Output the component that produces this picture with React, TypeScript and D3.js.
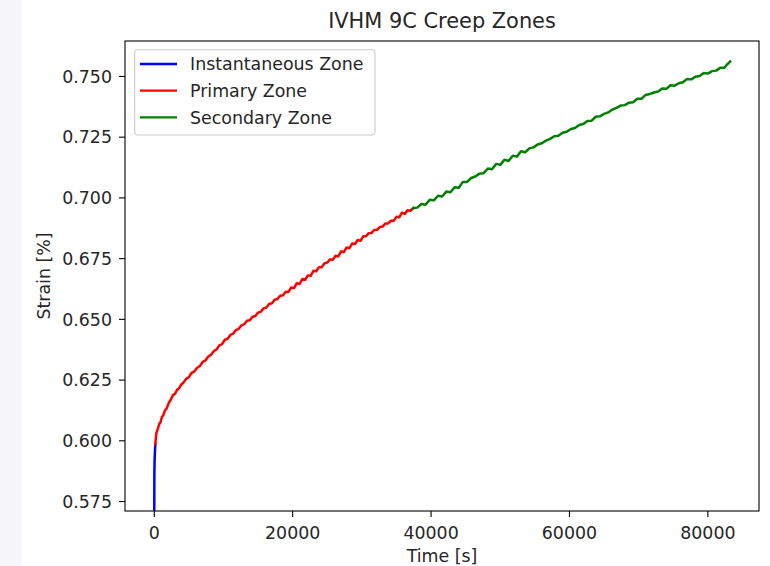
import React from "react";
import * as d3 from "d3";

const xTicks = [0, 20000, 40000, 60000, 80000];
const xTickLabels = ["0", "20000", "40000", "60000", "80000"];
const yTicks = [0.575, 0.6, 0.625, 0.65, 0.675, 0.7, 0.725, 0.75];
const yTickLabels = ["0.575", "0.600", "0.625", "0.650", "0.675", "0.700", "0.725", "0.750"];

const seriesNames = ["Instantaneous Zone", "Primary Zone", "Secondary Zone"];
const seriesColors = ["blue", "red", "green"];

// Instantaneous zone [time s, strain %]
const instantaneous: [number, number][] = [
  [0, 0.56], [3, 0.572], [6, 0.579], [10, 0.584], [15, 0.586], [20, 0.5875],
  [30, 0.589], [45, 0.5915], [60, 0.593], [80, 0.5945], [110, 0.5962], [150, 0.5985],
];

// Primary zone
const primary: [number, number][] = [
  [150, 0.5985], [300, 0.6032], [500, 0.6048], [700, 0.6068], [900, 0.6076], [1100, 0.6098],
  [1300, 0.6105], [1550, 0.6125], [1800, 0.6134], [2100, 0.6156], [2400, 0.6170], [2700, 0.6188],
  [3000, 0.6194], [3300, 0.6210], [3600, 0.6217], [3900, 0.6232], [4200, 0.6239], [4600, 0.6255],
  [5000, 0.6262], [5400, 0.6280], [5800, 0.6286], [6200, 0.6301], [6600, 0.6308], [7000, 0.6325],
  [7400, 0.6331], [7800, 0.6347], [8200, 0.6354], [8600, 0.6369], [9000, 0.6376], [9400, 0.6393],
  [9800, 0.6398], [10200, 0.6416], [10600, 0.6420], [11000, 0.6436], [11400, 0.6441], [11800, 0.6456],
  [12200, 0.6461], [12600, 0.6475], [13000, 0.6480], [13400, 0.6494], [13800, 0.6496], [14200, 0.6511],
  [14600, 0.6514], [15000, 0.6528], [15400, 0.6532], [15800, 0.6545], [16200, 0.6549], [16600, 0.6563],
  [17000, 0.6566], [17400, 0.6581], [17800, 0.6584], [18200, 0.6597], [18600, 0.6599], [19000, 0.6614],
  [19400, 0.6613], [19800, 0.6631], [20200, 0.6629], [20600, 0.6649], [21000, 0.6646], [21400, 0.6666],
  [21800, 0.6663], [22200, 0.6681], [22600, 0.6679], [23000, 0.6700], [23400, 0.6698], [23800, 0.6715],
  [24200, 0.6715], [24600, 0.6731], [25000, 0.6734], [25400, 0.6747], [25800, 0.6745], [26200, 0.6762],
  [26600, 0.6759], [27000, 0.6780], [27400, 0.6777], [27800, 0.6796], [28200, 0.6793], [28600, 0.6812],
  [29000, 0.6810], [29400, 0.6827], [29800, 0.6823], [30200, 0.6842], [30600, 0.6842], [31000, 0.6855],
  [31400, 0.6856], [31800, 0.6868], [32200, 0.6869], [32600, 0.6880], [33000, 0.6882], [33400, 0.6895],
  [33800, 0.6895], [34200, 0.6906], [34600, 0.6906], [35000, 0.6922], [35400, 0.6920], [35800, 0.6939],
  [36200, 0.6934], [36600, 0.6949], [37000, 0.6947], [37440, 0.6958],
];

// Secondary zone
const secondary: [number, number][] = [
  [37440, 0.6958], [38000, 0.6960], [38600, 0.6975], [39200, 0.6972], [39800, 0.6992], [40400, 0.6990],
  [41000, 0.7009], [41600, 0.7006], [42200, 0.7026], [42800, 0.7023], [43400, 0.7044], [44000, 0.7042],
  [44600, 0.7066], [45200, 0.7066], [45800, 0.7082], [46400, 0.7088], [47000, 0.7100], [47600, 0.7102],
  [48200, 0.7121], [48800, 0.7118], [49400, 0.7140], [50000, 0.7136], [50600, 0.7157], [51200, 0.7152],
  [51800, 0.7174], [52400, 0.7170], [53000, 0.7192], [53600, 0.7188], [54200, 0.7204], [54800, 0.7208],
  [55400, 0.7220], [56000, 0.7225], [56600, 0.7236], [57200, 0.7243], [57800, 0.7254], [58400, 0.7256],
  [59000, 0.7268], [59600, 0.7272], [60200, 0.7284], [60800, 0.7288], [61400, 0.7300], [62000, 0.7304],
  [62600, 0.7317], [63200, 0.7318], [63800, 0.7334], [64400, 0.7336], [65000, 0.7346], [65600, 0.7352],
  [66200, 0.7364], [66800, 0.7371], [67400, 0.7380], [68000, 0.7382], [68600, 0.7392], [69200, 0.7394],
  [69800, 0.7408], [70400, 0.7408], [71000, 0.7424], [71600, 0.7428], [72200, 0.7434], [72800, 0.7438],
  [73400, 0.7450], [74000, 0.7449], [74600, 0.7464], [75200, 0.7462], [75800, 0.7472], [76400, 0.7476],
  [77000, 0.7490], [77600, 0.7488], [78200, 0.7499], [78800, 0.7502], [79400, 0.7514], [80000, 0.7512],
  [80600, 0.7522], [81200, 0.7524], [81800, 0.7536], [82400, 0.7536], [82800, 0.7550], [83220, 0.7562],
];

const W = 770;
const H = 566;
const L = 125;
const R = 759;
const T = 41;
const B = 511;
const FONT = "DejaVu Sans, sans-serif";

export default function App() {
  const x = d3.scaleLinear().domain([-4230, 87390]).range([L, R]);
  const y = d3.scaleLinear().domain([0.5711, 0.7646]).range([B, T]);
  const line = d3
    .line<[number, number]>()
    .x((d) => x(d[0]))
    .y((d) => y(d[1]));
  const series = [instantaneous, primary, secondary];

  return (
    <svg
      width={W}
      height={H}
      style={{ position: "absolute", left: 0, top: 0, background: "#fff" }}
      fontFamily={FONT}
    >
      <rect x={0} y={0} width={W} height={H} fill="#ffffff" />
      <rect x={0} y={0} width={22} height={H} fill="#f7f7fb" />
      <defs>
        <clipPath id="plotClip">
          <rect x={L} y={T} width={R - L} height={B - T} />
        </clipPath>
      </defs>

      <g clipPath="url(#plotClip)">
        {series.map((s, i) => (
          <path
            key={i}
            d={line(s) || ""}
            fill="none"
            stroke={seriesColors[i]}
            strokeWidth={2.5}
            strokeLinejoin="round"
            strokeLinecap="square"
          />
        ))}
      </g>

      {/* spines */}
      <rect x={L} y={T} width={R - L} height={B - T} fill="none" stroke="#000" strokeWidth={1.1} />

      {/* x ticks */}
      {xTicks.map((t, i) => (
        <g key={"x" + i}>
          <line x1={x(t)} x2={x(t)} y1={B} y2={B + 6} stroke="#000" strokeWidth={1.1} />
          <text x={x(t)} y={539} textAnchor="middle" fontSize={17.4} fill="#262626">
            {xTickLabels[i]}
          </text>
        </g>
      ))}

      {/* y ticks */}
      {yTicks.map((t, i) => (
        <g key={"y" + i}>
          <line x1={L - 6} x2={L} y1={y(t)} y2={y(t)} stroke="#000" strokeWidth={1.1} />
          <text x={112} y={y(t) + 6.3} textAnchor="end" fontSize={17.4} fill="#262626">
            {yTickLabels[i]}
          </text>
        </g>
      ))}

      {/* axis labels */}
      <text x={(L + R) / 2} y={562} textAnchor="middle" fontSize={17.4} fill="#262626">
        Time [s]
      </text>
      <text
        transform={`translate(50, ${(T + B) / 2}) rotate(-90)`}
        textAnchor="middle"
        fontSize={17.4}
        fill="#262626"
      >
        Strain [%]
      </text>

      {/* title */}
      <text x={(L + R) / 2} y={27.5} textAnchor="middle" fontSize={20.9} fill="#262626">
        IVHM 9C Creep Zones
      </text>

      {/* legend */}
      <rect
        x={134.7}
        y={49.7}
        width={240.3}
        height={85.3}
        rx={3.5}
        ry={3.5}
        fill="#ffffff"
        fillOpacity={0.8}
        stroke="#cccccc"
        strokeWidth={1.1}
      />
      {seriesNames.map((n, i) => {
        const cy = 64 + i * 26.67;
        return (
          <g key={"lg" + i}>
            <line x1={140} x2={177} y1={cy} y2={cy} stroke={seriesColors[i]} strokeWidth={2.4} />
            <text x={190} y={cy + 6.3} fontSize={17.4} fill="#262626">
              {n}
            </text>
          </g>
        );
      })}
    </svg>
  );
}
